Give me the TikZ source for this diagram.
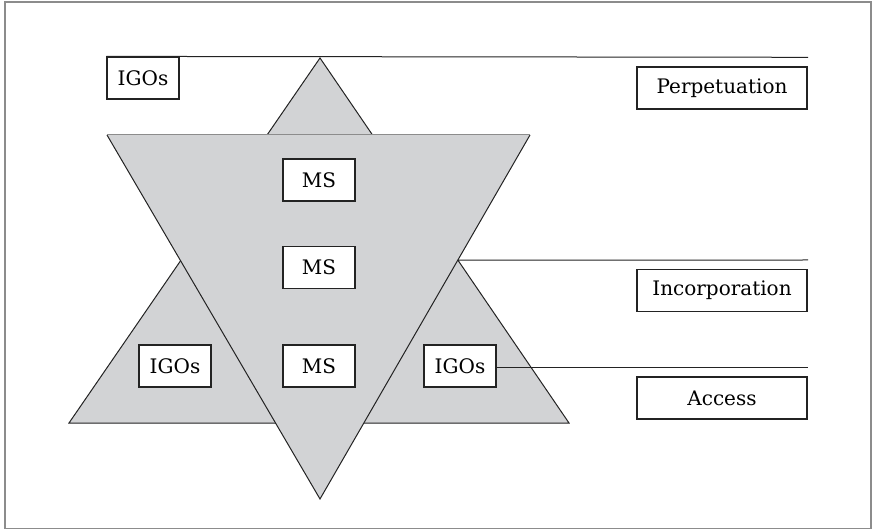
\documentclass[tikz,border=0pt]{standalone}
\usepackage{fontspec}
\setmainfont{DejaVu Serif}
\definecolor{fond}{RGB}{210, 211, 213}
\definecolor{cadre}{RGB}{140, 140, 140}
\definecolor{trait}{RGB}{35, 35, 35}
\begin{document}
\begin{tikzpicture}[x=0.5pt,y=-0.5pt,
  petit/.style={draw=trait, fill=white, line width=0.6pt, minimum width=36pt, minimum height=21pt, inner sep=0pt, font=\fontsize{10}{12}\selectfont},
  grand/.style={petit, minimum width=85pt}]
	\useasboundingbox (0,0) rectangle (873,529);
	\draw[cadre, line width=1pt] (4.5,2.5) rectangle (870.5,528.5); % le cadre
	% triangle pointe en haut
	\coordinate (sommet) at (320,58);
	\coordinate (basegauche) at (69,423);
	\coordinate (basedroite) at (569,423);
	\filldraw[fill=fond, draw=trait, line width=0.5pt] (sommet) -- (basedroite) -- (basegauche) -- cycle;
	% triangle pointe en bas
	\coordinate (hautgauche) at (107,135);
	\coordinate (hautdroite) at (530,135);
	\coordinate (pointe) at (320,499);
	\fill[fond] (hautgauche) -- (hautdroite) -- (pointe) -- cycle;
	\draw[trait, line width=0.5pt] (hautdroite) -- (pointe) -- (hautgauche);
	\draw[cadre, line width=0.5pt] (hautgauche) -- (hautdroite);
	\coordinate (croix) at (intersection of sommet--basedroite and hautdroite--pointe);
	% les boites
	\node[petit] (igoA) at (143,78) {IGOs};
	\node[petit] (msA) at (319,180) {MS};
	\node[petit] (msB) at (319,267.5) {MS};
	\node[petit] (msC) at (319,366) {MS};
	\node[petit] (igoB) at (175,366) {IGOs};
	\node[petit] (igoC) at (460,366) {IGOs};
	\node[grand] (perp) at (722,88) {Perpetuation};
	\node[grand] (incorp) at (722,290.5) {Incorporation};
	\node[grand] (acces) at (722,398) {Access};
	% les traits horizontaux
	\coordinate (finA) at (808,57.3);
	\coordinate (finB) at (808,260);
	\coordinate (finC) at (808,367);
	\draw[trait, line width=0.5pt] (igoA.north west) -- (finA);
	\draw[trait, line width=0.5pt] (croix) -- (finB);
	\draw[trait, line width=0.5pt] (igoC.east |- finC) -- (finC);
\end{tikzpicture}
\end{document}
